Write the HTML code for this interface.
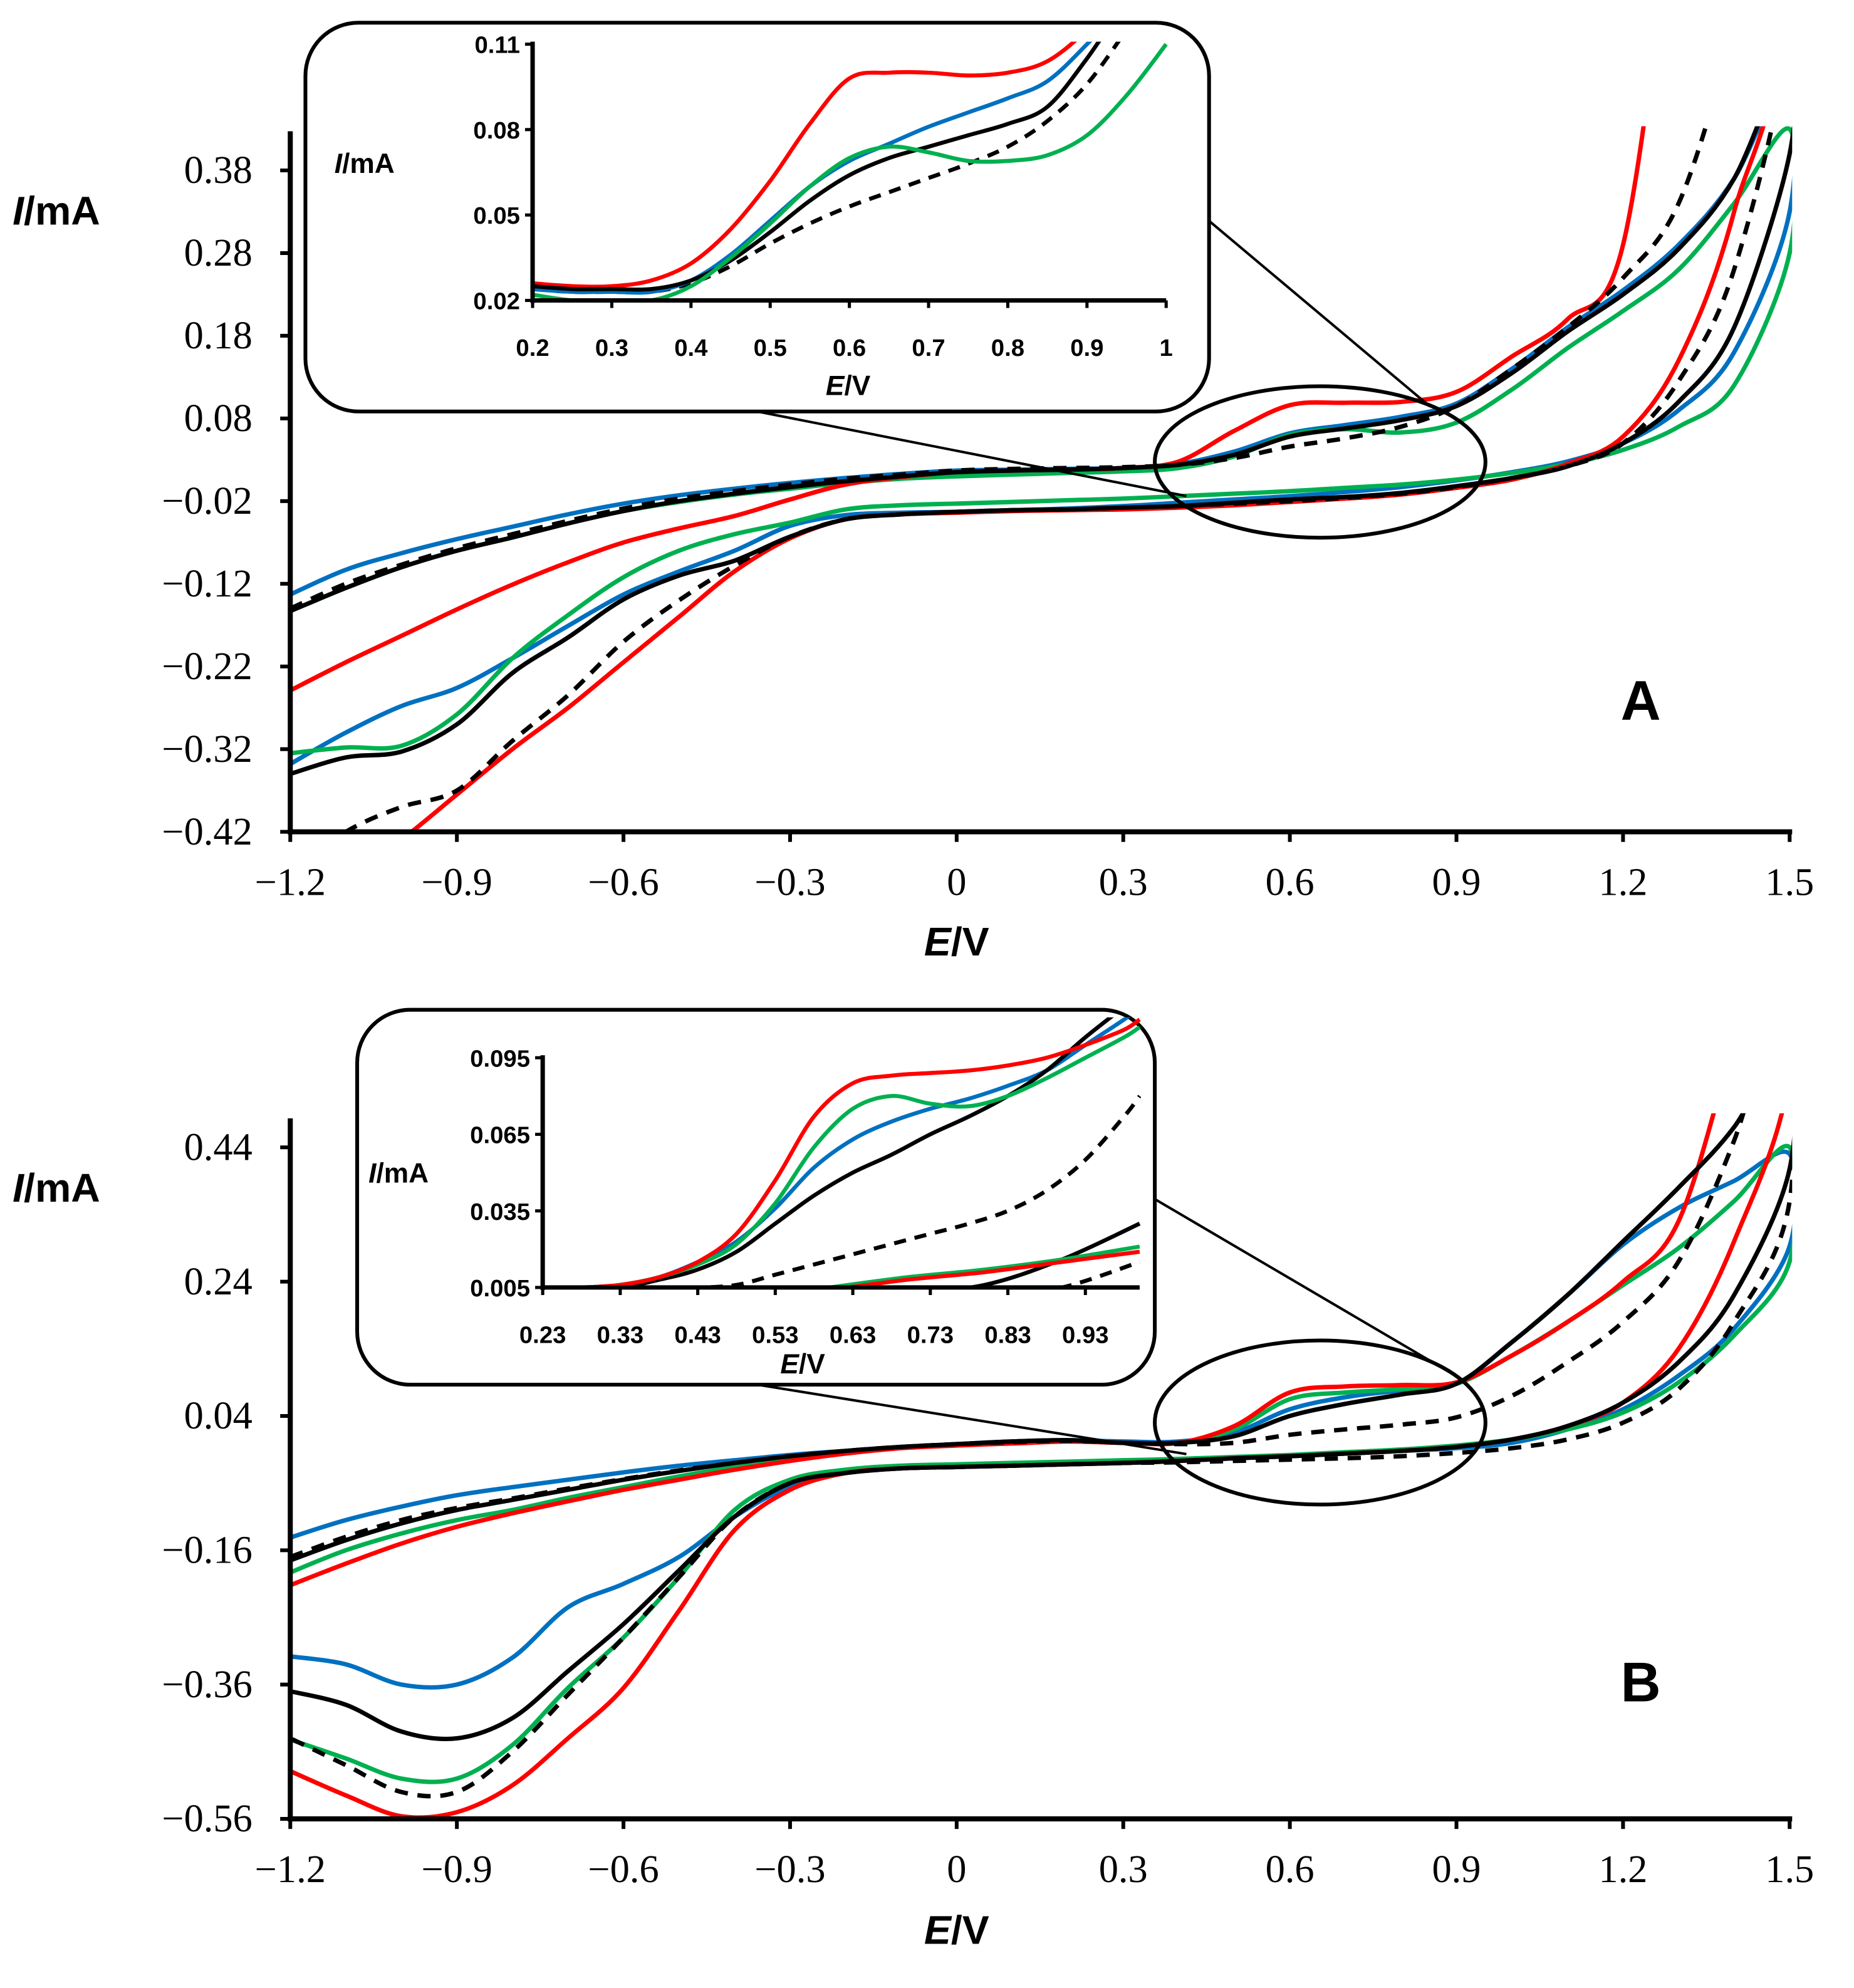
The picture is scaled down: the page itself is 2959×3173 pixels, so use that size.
<!DOCTYPE html>
<html><head><meta charset="utf-8"><style>
html,body{margin:0;padding:0;background:#fff;}
svg{display:block;}
.tk{font-family:"Liberation Serif",serif;font-size:31px;fill:#000;}
.itk{font-family:"Liberation Sans",sans-serif;font-weight:bold;font-size:19px;fill:#000;}
.ttl{font-family:"Liberation Sans",sans-serif;font-weight:bold;fill:#000;}
</style></head><body>
<svg id="fig" width="2959" height="3173" viewBox="0 0 1469 1575" preserveAspectRatio="none" xmlns="http://www.w3.org/2000/svg">
<defs>
<clipPath id="clipA"><rect x="230" y="100" width="1190" height="559"/></clipPath>
<clipPath id="clipB"><rect x="230" y="882" width="1190" height="559"/></clipPath>
<clipPath id="clipIA"><rect x="422" y="33" width="503" height="205"/></clipPath>
<clipPath id="clipIB"><rect x="430" y="806" width="474" height="214"/></clipPath>
</defs>
<g id="gA"></g>
<g id="gB"></g>
</svg>
<script>
// shared potential grid (V)
const E_GRID = [-1.2,-1.1,-1.0,-0.9,-0.8,-0.7,-0.6,-0.5,-0.4,-0.3,-0.2,-0.1,0,0.1,0.2,0.3,0.4,0.5,0.6,0.7,0.8,0.9,1.0,1.1,1.2,1.3,1.4,1.5];
const X_TICKS = [-1.2,-0.9,-0.6,-0.3,0,0.3,0.6,0.9,1.2,1.5];
const X_TICK_LABELS = ["\u22121.2","\u22120.9","\u22120.6","\u22120.3","0","0.3","0.6","0.9","1.2","1.5"];
// Panel A
const A_Y_TICKS = [0.38,0.28,0.18,0.08,-0.02,-0.12,-0.22,-0.32,-0.42];
const A_Y_LABELS = ["0.38","0.28","0.18","0.08","\u22120.02","\u22120.12","\u22120.22","\u22120.32","\u22120.42"];
const A_blue_up  = [-0.133,-0.103,-0.083,-0.066,-0.051,-0.036,-0.023,-0.013,-0.005,0.002,0.008,0.013,0.017,0.018,0.019,0.02,0.025,0.04,0.062,0.072,0.082,0.098,0.14,0.19,0.235,0.29,0.37,0.5];
const A_black_up = [-0.153,-0.125,-0.1,-0.08,-0.064,-0.047,-0.032,-0.02,-0.011,-0.003,0.004,0.01,0.015,0.017,0.018,0.02,0.024,0.036,0.058,0.068,0.078,0.095,0.135,0.185,0.23,0.285,0.37,0.52];
const A_green_up = [-0.153,-0.125,-0.1,-0.08,-0.064,-0.047,-0.032,-0.021,-0.012,-0.005,0.002,0.007,0.01,0.012,0.014,0.016,0.02,0.034,0.06,0.067,0.063,0.075,0.115,0.165,0.21,0.26,0.34,0.43];
const A_red_up   = [-0.249,-0.215,-0.183,-0.151,-0.121,-0.094,-0.07,-0.053,-0.038,-0.018,0.0,0.009,0.015,0.017,0.018,0.02,0.028,0.065,0.096,0.099,0.1,0.112,0.155,0.2,0.29,0.75,1.2,1.6];
const A_dash_up  = [-0.15,-0.12,-0.097,-0.077,-0.06,-0.044,-0.029,-0.017,-0.008,0.0,0.007,0.012,0.017,0.019,0.02,0.021,0.024,0.032,0.046,0.056,0.07,0.095,0.14,0.19,0.25,0.34,0.55,0.8];
const A_blue_dn  = [-0.338,-0.30,-0.268,-0.246,-0.21,-0.171,-0.133,-0.105,-0.08,-0.05,-0.037,-0.034,-0.033,-0.031,-0.029,-0.026,-0.022,-0.018,-0.014,-0.009,-0.003,0.005,0.015,0.028,0.05,0.09,0.16,0.33];
const A_black_dn = [-0.35,-0.33,-0.323,-0.29,-0.228,-0.185,-0.139,-0.11,-0.092,-0.063,-0.042,-0.036,-0.033,-0.031,-0.03,-0.028,-0.026,-0.022,-0.018,-0.015,-0.01,-0.002,0.008,0.022,0.05,0.1,0.19,0.4];
const A_green_dn = [-0.325,-0.318,-0.316,-0.278,-0.21,-0.158,-0.112,-0.08,-0.06,-0.046,-0.03,-0.025,-0.023,-0.021,-0.019,-0.017,-0.014,-0.011,-0.008,-0.004,0.0,0.006,0.014,0.025,0.042,0.07,0.12,0.28];
const A_red_dn   = [-0.53,-0.48,-0.43,-0.375,-0.32,-0.27,-0.215,-0.16,-0.105,-0.065,-0.042,-0.036,-0.034,-0.032,-0.031,-0.03,-0.028,-0.025,-0.021,-0.017,-0.012,-0.004,0.006,0.025,0.058,0.15,0.33,0.65];
const A_dash_dn  = [-0.47,-0.42,-0.39,-0.37,-0.31,-0.255,-0.19,-0.14,-0.098,-0.063,-0.042,-0.036,-0.033,-0.031,-0.03,-0.028,-0.026,-0.023,-0.02,-0.016,-0.011,-0.003,0.008,0.022,0.05,0.125,0.26,0.55];
// Panel B
const B_Y_TICKS = [0.44,0.24,0.04,-0.16,-0.36,-0.56];
const B_Y_LABELS = ["0.44","0.24","0.04","\u22120.16","\u22120.36","\u22120.56"];
const B_blue_up  = [-0.141,-0.115,-0.095,-0.078,-0.066,-0.055,-0.044,-0.034,-0.026,-0.018,-0.012,-0.006,-0.002,0.002,0.004,0.002,0.002,0.015,0.05,0.068,0.078,0.088,0.15,0.22,0.295,0.35,0.39,0.43];
const B_black_up = [-0.175,-0.145,-0.12,-0.1,-0.085,-0.07,-0.055,-0.042,-0.03,-0.02,-0.012,-0.006,-0.002,0.002,0.004,0.0,0.0,0.01,0.04,0.058,0.072,0.088,0.15,0.22,0.3,0.38,0.47,0.6];
const B_green_up = [-0.193,-0.16,-0.135,-0.115,-0.1,-0.082,-0.066,-0.05,-0.036,-0.024,-0.014,-0.007,-0.003,0.0,0.003,0.0,0.0,0.02,0.065,0.075,0.08,0.088,0.13,0.18,0.235,0.29,0.36,0.44];
const B_red_up   = [-0.212,-0.18,-0.15,-0.125,-0.105,-0.087,-0.07,-0.055,-0.04,-0.027,-0.016,-0.008,-0.004,-0.001,0.002,0.0,0.0,0.025,0.075,0.084,0.086,0.09,0.13,0.18,0.24,0.33,0.6,0.9];
const B_dash_up  = [-0.17,-0.14,-0.115,-0.097,-0.083,-0.068,-0.054,-0.041,-0.03,-0.02,-0.012,-0.006,-0.002,0.001,0.003,0.0,-0.002,0.0,0.012,0.02,0.027,0.038,0.07,0.12,0.18,0.27,0.45,0.7];
const B_blue_dn  = [-0.318,-0.33,-0.36,-0.36,-0.32,-0.245,-0.21,-0.17,-0.11,-0.065,-0.045,-0.038,-0.036,-0.034,-0.032,-0.03,-0.027,-0.023,-0.02,-0.016,-0.012,-0.008,0.0,0.02,0.05,0.1,0.17,0.293];
const B_black_dn = [-0.37,-0.39,-0.43,-0.44,-0.41,-0.34,-0.27,-0.19,-0.11,-0.06,-0.045,-0.038,-0.036,-0.034,-0.032,-0.03,-0.027,-0.023,-0.02,-0.016,-0.012,-0.006,0.005,0.025,0.06,0.12,0.22,0.408];
const B_green_dn = [-0.442,-0.47,-0.5,-0.5,-0.45,-0.365,-0.29,-0.2,-0.1,-0.055,-0.04,-0.034,-0.032,-0.03,-0.028,-0.026,-0.024,-0.021,-0.018,-0.014,-0.01,-0.004,0.005,0.02,0.045,0.09,0.16,0.27];
const B_red_dn   = [-0.489,-0.525,-0.556,-0.55,-0.51,-0.44,-0.365,-0.25,-0.13,-0.07,-0.045,-0.038,-0.036,-0.034,-0.032,-0.03,-0.027,-0.023,-0.02,-0.016,-0.012,-0.006,0.005,0.025,0.06,0.14,0.3,0.55];
const B_dash_dn  = [-0.44,-0.48,-0.52,-0.52,-0.46,-0.375,-0.29,-0.2,-0.11,-0.06,-0.045,-0.038,-0.036,-0.034,-0.032,-0.03,-0.029,-0.027,-0.025,-0.023,-0.02,-0.015,-0.008,0.005,0.03,0.08,0.18,0.36];
// Inset A
const IA_E = [0.2,0.25,0.3,0.35,0.4,0.45,0.5,0.55,0.6,0.65,0.7,0.75,0.8,0.85,0.9,0.95,1.0];
const IA_X_TICKS = [0.2,0.3,0.4,0.5,0.6,0.7,0.8,0.9,1.0];
const IA_X_LABELS = ["0.2","0.3","0.4","0.5","0.6","0.7","0.8","0.9","1"];
const IA_Y_TICKS = [0.02,0.05,0.08,0.11];
const IA_Y_LABELS = ["0.02","0.05","0.08","0.11"];
const IA_red   = [0.026,0.025,0.025,0.027,0.033,0.045,0.062,0.082,0.098,0.1,0.1,0.099,0.1,0.104,0.115,0.13,0.15];
const IA_blue  = [0.024,0.023,0.023,0.023,0.027,0.036,0.048,0.06,0.069,0.075,0.081,0.086,0.091,0.097,0.11,0.125,0.14];
const IA_black = [0.025,0.024,0.024,0.024,0.027,0.034,0.044,0.055,0.064,0.07,0.074,0.078,0.082,0.088,0.105,0.125,0.14];
const IA_green = [0.022,0.02,0.02,0.02,0.025,0.035,0.047,0.06,0.07,0.074,0.072,0.069,0.069,0.071,0.078,0.092,0.11];
const IA_dash  = [0.024,0.023,0.023,0.023,0.026,0.032,0.04,0.047,0.053,0.058,0.063,0.068,0.074,0.083,0.096,0.115,0.135];
// Inset B
const IB_E = [0.23,0.28,0.33,0.38,0.43,0.48,0.53,0.58,0.63,0.68,0.73,0.78,0.83,0.88,0.93,0.98,1.0];
const IB_X_TICKS = [0.23,0.33,0.43,0.53,0.63,0.73,0.83,0.93];
const IB_X_LABELS = ["0.23","0.33","0.43","0.53","0.63","0.73","0.83","0.93"];
const IB_Y_TICKS = [0.005,0.035,0.065,0.095];
const IB_Y_LABELS = ["0.005","0.035","0.065","0.095"];
const IB_red   = [0.005,0.005,0.006,0.009,0.015,0.026,0.047,0.072,0.085,0.088,0.089,0.09,0.092,0.095,0.1,0.106,0.11];
const IB_green = [0.005,0.005,0.006,0.009,0.014,0.022,0.038,0.06,0.075,0.08,0.077,0.076,0.08,0.087,0.095,0.103,0.107];
const IB_blue  = [0.005,0.005,0.006,0.009,0.015,0.023,0.036,0.052,0.063,0.07,0.075,0.079,0.084,0.09,0.1,0.11,0.115];
const IB_black = [0.005,0.005,0.005,0.008,0.012,0.019,0.03,0.041,0.05,0.057,0.065,0.072,0.08,0.09,0.103,0.115,0.12];
const IB_dash  = [0.005,0.005,0.005,0.005,0.005,0.006,0.01,0.014,0.018,0.022,0.026,0.03,0.035,0.043,0.055,0.072,0.08];
const IB_LOW_E = [0.6,0.7,0.8,0.9,1.0];
const IB_green_low = [0.005,0.009,0.012,0.016,0.021];
const IB_red_low   = [0.004,0.008,0.011,0.015,0.019];
const IB_black_low = [0.002,0.003,0.006,0.016,0.03];
const IB_dash_low  = [0.0,0.0,0.001,0.005,0.015];

const NS="http://www.w3.org/2000/svg";
const COL={red:"#ff0000",blue:"#0070c0",green:"#00b050",black:"#000000",dash:"#000000"};
function mk(tag,attrs,parent){const e=document.createElementNS(NS,tag);for(const k in attrs)e.setAttribute(k,attrs[k]);parent.appendChild(e);return e;}
function smooth(pts){let d="M"+pts[0][0].toFixed(1)+","+pts[0][1].toFixed(1);
 for(let i=0;i<pts.length-1;i++){const p0=pts[Math.max(0,i-1)],p1=pts[i],p2=pts[i+1],p3=pts[Math.min(pts.length-1,i+2)];
  const c1=[p1[0]+(p2[0]-p0[0])/6,p1[1]+(p2[1]-p0[1])/6],c2=[p2[0]-(p3[0]-p1[0])/6,p2[1]-(p3[1]-p1[1])/6];
  d+="C"+c1[0].toFixed(1)+","+c1[1].toFixed(1)+" "+c2[0].toFixed(1)+","+c2[1].toFixed(1)+" "+p2[0].toFixed(1)+","+p2[1].toFixed(1);}
 return d;}
function drawSeries(g,xs,ys,sx,sy,key,clip,name,w){
 const pts=xs.map((e,i)=>[sx(e),sy(ys[i])]);
 const p=mk("path",{d:smooth(pts),fill:"none",stroke:COL[key],"stroke-width":w,"stroke-linejoin":"round","clip-path":"url(#"+clip+")"},g);
 if(key==="dash")p.setAttribute("stroke-dasharray",(w*3)+","+(w*2.2));
 
 
}
function loop(up,dn){return{E:E_GRID.concat(E_GRID.slice().reverse()),I:up.concat(dn.slice().reverse())};}

function panel(g,y0,yMinV,yMaxV,yTopPx,yTicks,yLabels,series,clip,letter,letterY,axisNameY,xTitleY){
 const sx=e=>230+(e+1.2)*440;
 const sy=v=>y0-(v-yMinV)/(yMaxV-yMinV)*(y0-yTopPx);
 const order=["blue","green","red","black","dash"];
 order.forEach(k=>{const L=loop(series[k][0],series[k][1]);drawSeries(g,L.E,L.I,sx,sy,k,clip,"series-"+(k==="dash"?"black-dashed":k),3.5);});
 let a=mk("line",{x1:230,y1:y0-555,x2:230,y2:y0+2,stroke:"#000","stroke-width":4},g);
 
 a=mk("line",{x1:228,y1:y0,x2:1420,y2:y0,stroke:"#000","stroke-width":4},g);
 
 X_TICKS.forEach((t,i)=>{const x=sx(t);
  const tk=mk("line",{x1:x,y1:y0,x2:x,y2:y0+8,stroke:"#000","stroke-width":3},g);
  
  const tx=mk("text",{x:x,y:y0+50,"text-anchor":"middle",class:"tk"},g);tx.textContent=X_TICK_LABELS[i];
  });
 yTicks.forEach((t,i)=>{const y=sy(t);
  const tk=mk("line",{x1:222,y1:y,x2:230,y2:y,stroke:"#000","stroke-width":3},g);
  
  const tx=mk("text",{x:200,y:y+10,"text-anchor":"end",class:"tk"},g);tx.textContent=yLabels[i];
  });
 let t=mk("text",{x:10,y:axisNameY,class:"ttl","font-size":32},g);
 t.innerHTML='<tspan font-style="italic">I</tspan>/mA';
 
 t=mk("text",{x:758,y:xTitleY,class:"ttl","font-size":32,"text-anchor":"middle"},g);
 t.innerHTML='<tspan font-style="italic">E</tspan>/V';
 
 t=mk("text",{x:1300,y:letterY,class:"ttl","font-size":44,"text-anchor":"middle"},g);t.textContent=letter;
 
}

function inset(g,box,ax,xr,yr,xTicks,xLabels,yTicks,yLabels,series,lows,clip,yTitle,xTitle){
 let r=mk("rect",{x:box[0],y:box[1],width:box[2],height:box[3],rx:42,ry:42,fill:"#fff",stroke:"#000","stroke-width":3},g);
 
 const sx=e=>ax[0]+(e-xr[0])/(xr[1]-xr[0])*(ax[1]-ax[0]);
 const sy=v=>ax[2]-(v-yr[0])/(yr[1]-yr[0])*(ax[2]-ax[3]);
 series.forEach(s=>drawSeries(g,s.E,s.I,sx,sy,s.k,clip,"inset-series-"+(s.k==="dash"?"black-dashed":s.k),3.2));
 lows.forEach(s=>drawSeries(g,s.E,s.I,sx,sy,s.k,clip,"inset-return-"+(s.k==="dash"?"black-dashed":s.k),3.2));
 let a=mk("line",{x1:ax[0],y1:ax[3]-2,x2:ax[0],y2:ax[2]+2,stroke:"#000","stroke-width":3.5},g);
 
 a=mk("line",{x1:ax[0],y1:ax[2],x2:ax[1],y2:ax[2],stroke:"#000","stroke-width":3.5},g);
 
 xTicks.forEach((t,i)=>{const x=sx(t);
  const tk=mk("line",{x1:x,y1:ax[2],x2:x,y2:ax[2]+6,stroke:"#000","stroke-width":2.5},g);
  
  const tx=mk("text",{x:x,y:ax[2]+44,"text-anchor":"middle",class:"itk"},g);tx.textContent=xLabels[i];
  });
 yTicks.forEach((t,i)=>{const y=sy(t);
  const tk=mk("line",{x1:ax[0]-6,y1:y,x2:ax[0],y2:y,stroke:"#000","stroke-width":2.5},g);
  
  const tx=mk("text",{x:ax[0]-10,y:y+7,"text-anchor":"end",class:"itk"},g);tx.textContent=yLabels[i];
  });
 let t=mk("text",{x:yTitle[0],y:yTitle[1],class:"ttl","font-size":22,"font-weight":"normal"},g);
 t.innerHTML='<tspan font-style="italic">I</tspan>/mA';
 
 t=mk("text",{x:xTitle[0],y:xTitle[1],class:"ttl","font-size":22,"font-weight":"normal","text-anchor":"middle"},g);
 t.innerHTML='<tspan font-style="italic">E</tspan>/V';
 
}
function zoomMarks(g,cx,cy,rx,ry,l1,l2){
 let e=mk("ellipse",{cx:cx,cy:cy,rx:rx,ry:ry,fill:"none",stroke:"#000","stroke-width":3},g);
 
 [l1,l2].forEach(l=>{const ln=mk("line",{x1:l[0],y1:l[1],x2:l[2],y2:l[3],stroke:"#000","stroke-width":2},g);
  });
}

const gA=document.getElementById("gA"),gB=document.getElementById("gB");
panel(gA,659,-0.42,0.38,135,A_Y_TICKS,A_Y_LABELS,
 {blue:[A_blue_up,A_blue_dn],green:[A_green_up,A_green_dn],red:[A_red_up,A_red_dn],black:[A_black_up,A_black_dn],dash:[A_dash_up,A_dash_dn]},
 "clipA","A",570,178,757);
zoomMarks(gA,1046,366,131,60,[958,175,1133,322],[600,326,940,393]);
inset(gA,[242,18,716,308],[422,924,238,35],[0.2,1.0],[0.02,0.11],IA_X_TICKS,IA_X_LABELS,IA_Y_TICKS,IA_Y_LABELS,
 [{E:IA_E,I:IA_dash,k:"dash"},{E:IA_E,I:IA_blue,k:"blue"},{E:IA_E,I:IA_red,k:"red"},{E:IA_E,I:IA_black,k:"black"},{E:IA_E,I:IA_green,k:"green"}],
 [],"clipIA",[265,137],[672,313]);
panel(gB,1441,-0.56,0.44,909,B_Y_TICKS,B_Y_LABELS,
 {blue:[B_blue_up,B_blue_dn],green:[B_green_up,B_green_dn],red:[B_red_up,B_red_dn],black:[B_black_up,B_black_dn],dash:[B_dash_up,B_dash_dn]},
 "clipB","B",1348,952,1540);
zoomMarks(gB,1046,1127,131,65,[915,950,1150,1088],[600,1097,940,1152]);
inset(gB,[283,800,632,297],[430,903,1020,838],[0.23,1.0],[0.005,0.095],IB_X_TICKS,IB_X_LABELS,IB_Y_TICKS,IB_Y_LABELS,
 [{E:IB_E,I:IB_dash,k:"dash"},{E:IB_E,I:IB_blue,k:"blue"},{E:IB_E,I:IB_black,k:"black"},{E:IB_E,I:IB_green,k:"green"},{E:IB_E,I:IB_red,k:"red"}],
 [{E:IB_LOW_E,I:IB_dash_low,k:"dash"},{E:IB_LOW_E,I:IB_black_low,k:"black"},{E:IB_LOW_E,I:IB_green_low,k:"green"},{E:IB_LOW_E,I:IB_red_low,k:"red"}],
 "clipIB",[292,937],[636,1088]);
</script>
</body></html>
